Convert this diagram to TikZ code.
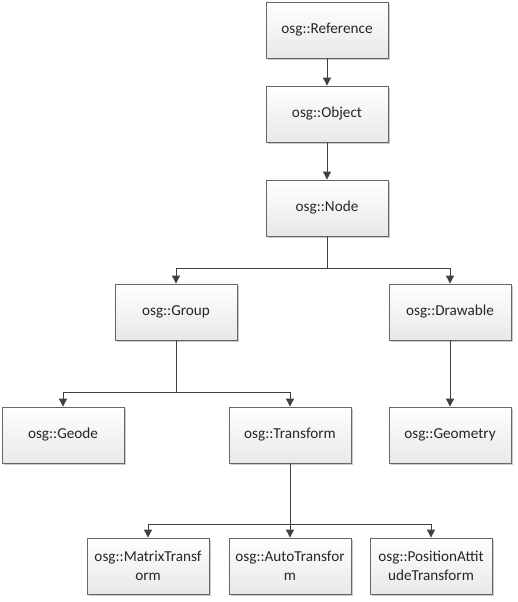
\documentclass[tikz,border=0pt]{standalone}
\usepackage{fontspec}
\setmainfont{Carlito}
\usetikzlibrary{arrows.meta,shadows}
\begin{document}
\begin{tikzpicture}[x=1pt,y=-1pt,
  box/.style={draw=black!60, line width=0.8pt, top color=white, bottom color=black!9,
    minimum width=122pt, minimum height=56pt, inner sep=0pt,
    font=\fontsize{15.2}{19.5}\selectfont, align=center, text=black!85,
    drop shadow={shadow xshift=1.6pt, shadow yshift=-1.6pt, opacity=0.35, fill=black!60}},
  link/.style={draw=black!75, line width=0.9pt},
  conn/.style={link, -{Triangle[length=8pt,width=8pt]}}]
\useasboundingbox (0,0) rectangle (517,602);

\node[box] (ref)  at (327,30)  {osg::Reference};
\node[box] (obj)  at (327,114) {osg::Object};
\node[box] (nod)  at (327,208) {osg::Node};
\node[box] (grp)  at (176,312) {osg::Group};
\node[box] (drw)  at (450,312) {osg::Drawable};
\node[box] (geo)  at (63,435)  {osg::Geode};
\node[box] (trn)  at (290,435) {osg::Transform};
\node[box] (geom) at (450,435) {osg::Geometry};
\node[box] (mat)  at (148,566) {osg::MatrixTransf\\orm};
\node[box] (aut)  at (290,566) {osg::AutoTransfor\\m};
\node[box] (pos)  at (431,566) {osg::PositionAttit\\udeTransform};

\coordinate (b1) at (327,268);
\coordinate (b2) at (176,392);
\coordinate (b3) at (290,524);

\draw[conn] (ref) -- (obj);
\draw[conn] (obj) -- (nod);
\draw[link] (nod) -- (b1);
\draw[conn] (b1) -| (grp);
\draw[conn] (b1) -| (drw);
\draw[conn] (drw) -- (geom);
\draw[link] (grp) -- (b2);
\draw[conn] (b2) -| (geo);
\draw[conn] (b2) -| (trn);
\draw[conn] (trn) -- (aut);
\draw[conn] (b3) -| (mat);
\draw[conn] (b3) -| (pos);
\end{tikzpicture}
\end{document}
